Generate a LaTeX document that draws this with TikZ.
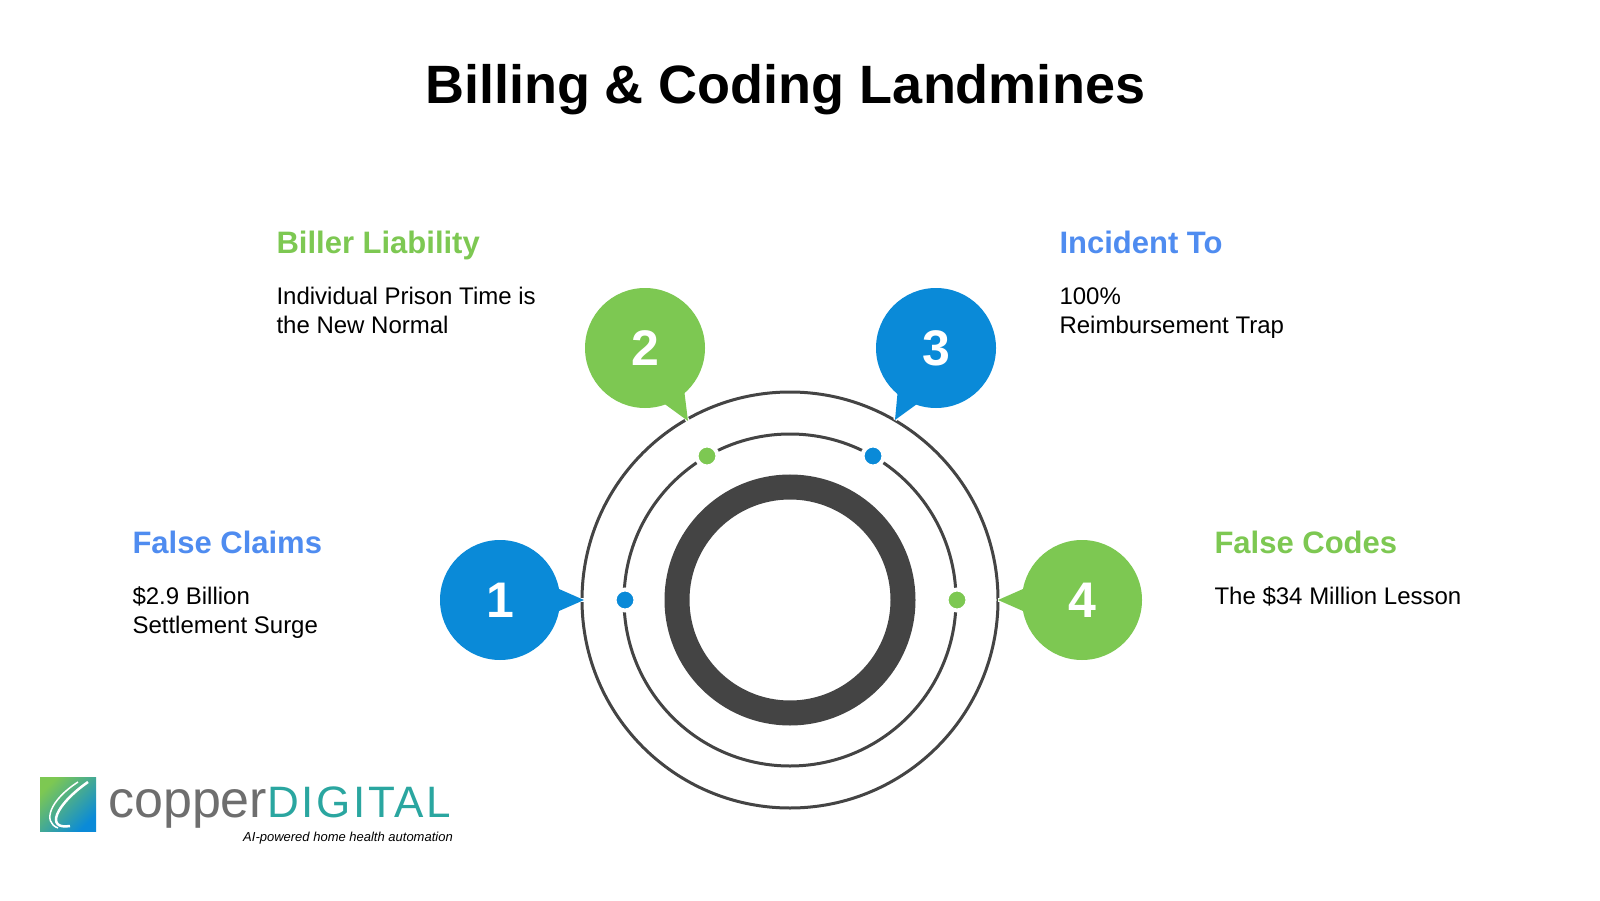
\documentclass[tikz,border=0pt]{standalone}
\usepackage{fontspec}
\setmainfont{Liberation Sans}
\usetikzlibrary{calc}
\definecolor{cgreen}{HTML}{7DC852}
\definecolor{cblue}{HTML}{0A8AD8}
\definecolor{hblue}{HTML}{4F8CF0}
\definecolor{ring}{HTML}{444444}
\definecolor{lgray}{HTML}{6E6E6E}
\definecolor{lteal}{HTML}{2AA6A0}
\tikzset{
  bubble/.style={circle,minimum size=120pt,inner sep=0pt,text=white,font=\fontsize{50}{50}\selectfont\bfseries},
  head/.style={anchor=base west,font=\fontsize{31}{31}\selectfont\bfseries},
  body/.style={anchor=north west,align=left,font=\fontsize{24}{29}\selectfont},
  dot/.style={circle,minimum size=21pt,inner sep=0pt,draw=white,line width=4pt}
}
\begin{document}
\begin{tikzpicture}[x=1pt,y=-1pt]
\useasboundingbox (0,0) rectangle (1600,901);
\fill[white] (0,0) rectangle (1600,901);
\node[font=\fontsize{54}{54}\selectfont\bfseries] (title) at (785,90) {Billing \& Coding Landmines};
% rings
\coordinate (c) at (790,600);
\draw[ring,line width=3pt] (c) circle[radius=208];
\draw[ring,line width=3pt] (c) circle[radius=166];
\draw[ring,line width=25pt] (c) circle[radius=113];
% bubbles with tails
\foreach \n/\x/\y/\tx/\ty/\col in {1/500/600/584/600/cblue, 2/645/348/688/421/cgreen, 3/936/348/895/420/cblue, 4/1082/600/998/600/cgreen}{
  \coordinate (t\n) at (\tx,\ty);
  \coordinate (bc\n) at (\x,\y);
  \draw[white,line width=4pt] (t\n) -- ($(bc\n)!0.9!(t\n)$);
  \fill[\col] ($(bc\n)!45pt!25:(t\n)$) -- (t\n) -- ($(bc\n)!45pt!-25:(t\n)$) -- cycle;
  \node[bubble,fill=\col] (b\n) at (bc\n) {\n};
}
\node[dot,fill=cblue] (d1) at (625,600) {};
\node[dot,fill=cgreen] (d2) at (707,456) {};
\node[dot,fill=cblue] (d3) at (873,456) {};
\node[dot,fill=cgreen] (d4) at (957,600) {};
% texts
\node[head,text=cgreen] (h2) at (273,254) {Biller Liability};
\node[body] (t2x) at (273,284) {Individual Prison Time is\\the New Normal};
\node[head,text=hblue] (h3) at (1056,254) {Incident To};
\node[body] (t3x) at (1056,284) {100\%\\Reimbursement Trap};
\node[head,text=hblue] (h1) at (129,553) {False Claims};
\node[body] (t1x) at (129,583) {\$2.9 Billion\\Settlement Surge};
\node[head,text=cgreen] (h4) at (1211,553) {False Codes};
\node[body] (t4x) at (1211,583) {The \$34 Million Lesson};
% logo
\shade[left color=cgreen,right color=cblue,shading angle=45] (40,777) rectangle (96,831);
\draw[white,line width=2.5pt] (88,782) .. controls (55,805) and (45,830) .. (70,826);
\draw[white,line width=1.5pt] (78,782) .. controls (50,800) and (42,822) .. (58,828);
\node[anchor=base west,text=lgray,font=\fontsize{52}{52}\selectfont,inner sep=0pt] (lc) at (108,817) {copper};
\node[anchor=base west,text=lteal,font=\fontsize{44}{44}\selectfont\addfontfeatures{LetterSpace=6},inner sep=0pt] (ld) at (lc.base east) {DIGITAL};
\node[anchor=base east,font=\fontsize{13}{13}\selectfont\itshape,inner sep=0pt] (tag) at (453,841) {AI-powered home health automation};
\end{tikzpicture}
\end{document}
